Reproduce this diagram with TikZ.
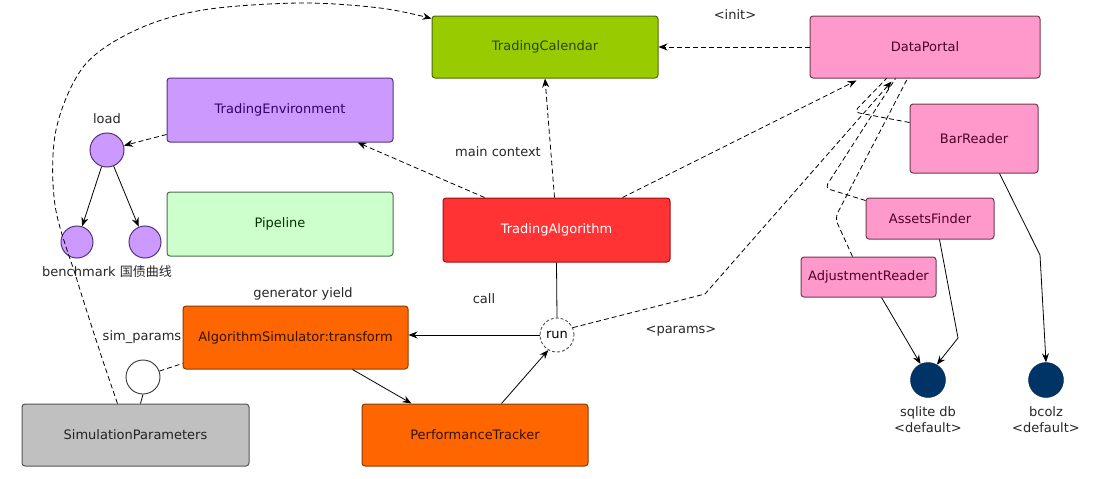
\documentclass[tikz,border=0pt]{standalone}
\usepackage{fontspec}
\setmainfont{DejaVu Sans}
\newfontfamily\cjk{Noto Sans CJK SC}
\usetikzlibrary{arrows.meta,calc}
\definecolor{tcfill}{HTML}{99CC00}\definecolor{tcline}{HTML}{4F6A00}\definecolor{tctext}{HTML}{2E4400}
\definecolor{dpfill}{HTML}{FF99CC}\definecolor{dpline}{HTML}{6E3A50}\definecolor{dptext}{HTML}{4D0026}
\definecolor{tefill}{HTML}{CC99FF}\definecolor{teline}{HTML}{553377}\definecolor{tetext}{HTML}{330066}
\definecolor{plfill}{HTML}{CCFFCC}\definecolor{plline}{HTML}{4E6A4E}\definecolor{pltext}{HTML}{003300}
\definecolor{tafill}{HTML}{FF3333}\definecolor{taline}{HTML}{991111}
\definecolor{orfill}{HTML}{FF6600}\definecolor{orline}{HTML}{8A3A00}\definecolor{ortext}{HTML}{331100}
\definecolor{spfill}{HTML}{C0C0C0}\definecolor{spline}{HTML}{555555}\definecolor{sptext}{HTML}{222222}
\definecolor{navy}{HTML}{003366}
\begin{document}
\begin{tikzpicture}[x=1pt,y=-1pt,
  font=\fontsize{13}{16}\selectfont,
  box/.style={draw, rounded corners=3pt, line width=1pt, inner sep=0pt},
  tc/.style={box, fill=tcfill, draw=tcline, text=tctext},
  dp/.style={box, fill=dpfill, draw=dpline, text=dptext},
  te/.style={box, fill=tefill, draw=teline, text=tetext},
  pl/.style={box, fill=plfill, draw=plline, text=pltext},
  ta/.style={box, fill=tafill, draw=taline, text=white},
  orb/.style={box, fill=orfill, draw=orline, text=ortext},
  sp/.style={box, fill=spfill, draw=spline, text=sptext},
  dot/.style={circle, draw=teline, fill=tefill, line width=1pt, minimum size=32pt, inner sep=0pt},
  hollow/.style={circle, draw=black!80, fill=white, line width=0.9pt, minimum size=34pt, inner sep=0pt},
  db/.style={circle, fill=navy, draw=navy!70!black, minimum size=35pt, inner sep=0pt},
  lbl/.style={inner sep=0pt, text=black!85},
  dsh/.style={dash pattern=on 5pt off 3pt, line width=0.8pt},
  sol/.style={line width=0.8pt},
  tip/.style={-{Stealth[length=9pt,width=7pt,inset=3pt]}}
]
\useasboundingbox (0,0) rectangle (1093,479);
% boxes
\node[tc, minimum width=226pt, minimum height=62pt] (TC) at (545,47) {TradingCalendar};
\node[dp, minimum width=230pt, minimum height=62pt] (DP) at (925,47) {DataPortal};
\node[te, minimum width=226pt, minimum height=64pt] (TE) at (280,110) {TradingEnvironment};
\node[pl, minimum width=226pt, minimum height=64pt] (PL) at (280,224) {Pipeline};
\node[ta, minimum width=227pt, minimum height=64pt] (TA) at (556.5,230) {TradingAlgorithm};
\node[orb, minimum width=225pt, minimum height=63pt] (AS) at (295.5,337.5) {AlgorithmSimulator:transform};
\node[sp, minimum width=227pt, minimum height=62pt] (SP) at (135.5,435) {SimulationParameters};
\node[orb, minimum width=226pt, minimum height=62pt] (PT) at (475,435) {PerformanceTracker};
\node[dp, minimum width=128pt, minimum height=69pt] (BR) at (974,138.5) {BarReader};
\node[dp, minimum width=128pt, minimum height=41pt] (AF) at (930,218.5) {AssetsFinder};
\node[dp, minimum width=135pt, minimum height=40pt] (AR) at (868.5,277) {AdjustmentReader};
% circles
\node[dot, minimum size=34pt] (load) at (107,150) {};
\node[dot] (bm) at (77,242) {};
\node[dot] (gz) at (145,242) {};
\node[hollow, draw=black!70, dash pattern=on 3pt off 2pt] (run) at (557,335) {run};
\node[hollow] (sim) at (143,377) {};
\node[db] (sq) at (928,380) {};
\node[db] (bc) at (1046,380) {};
% labels
\node[lbl] (linit) at (735,15) {<init>};
\node[lbl] (lload) at (107,119) {load};
\node[lbl] (lbm) at (107,272) {benchmark {\cjk 国债曲线}};
\node[lbl] (lmain) at (498,152) {main context};
\node[lbl] (lcall) at (484,299) {call};
\node[lbl] (lpar) at (681,331) {<params>};
\node[lbl] (lgen) at (303,294) {generator yield};
\node[lbl] (lsim) at (142,337) {sim\_params};
\node[lbl, align=center] (lsq) at (928,420) {sqlite db\\<default>};
\node[lbl, align=center] (lbc) at (1046,420) {bcolz\\<default>};
% dashed connectors
\draw[dsh, tip] plot[smooth, tension=0.55] coordinates {($(SP.north)+(-18,0)$) (100,352) (77,280) (55,205) (56,130) (84,66) (136,30) (203,10) (300,3) (380,8) ($(TC.north west)+(0,3)$)};
\draw[dsh, tip] (DP.west) -- (TC.east);
\draw[dsh, tip] ($(TE.south west)+(0,-8)$) -- (load);
\draw[dsh, tip] ($(TA.north)+(-2,0)$) -- (TC.south);
\draw[dsh, tip] ($(TA.north west)+(42,0)$) -- ($(TE.south east)+(-36,0)$);
\draw[dsh, tip] ($(TA.north east)+(-48,0)$) -- ($(DP.south west)+(47,2)$);
\coordinate (bend) at (705,294);
\draw[dsh, tip] (run.25) -- (bend) -- ($(DP.south west)+(82,3)$);
\draw[dsh, rounded corners=5pt] ($(BR.north west)+(0,19)$) -- (854,112) -- ($(DP.south west)+(77,0)$);
\draw[dsh, rounded corners=5pt] ($(AF.north west)+(0,3)$) -- (825,188) -- ($(DP.south west)+(86,0)$);
\draw[dsh, rounded corners=6pt] ($(AR.north west)+(52,0)$) -- (835,218) -- ($(DP.south west)+(98,0)$);
\draw[dsh] (sim.20) -- ($(AS.south west)+(0,-6)$);
% solid connectors
\draw[sol, tip] (load) -- (bm);
\draw[sol, tip] (load) -- (gz);
\draw[sol] (TA.south) -- (run.north);
\draw[sol, tip] (run.west) -- (AS.east |- run.west);
\draw[sol, tip] ($(AS.south east)+(-56,0)$) -- ($(PT.north west)+(50,0)$);
\draw[sol, tip] ($(PT.north west)+(140,0)$) -- (run.240);
\draw[sol] ($(SP.north)+(5,0)$) -- (sim.south);
\draw[sol, tip] ($(BR.south west)+(90,0)$) -- (1040,255) -- (bc.north);
\draw[sol, tip] ($(AF.south west)+(74,0)$) -- (958,338) -- (sq.60);
\draw[sol, tip] ($(AR.south west)+(81,0)$) -- (sq.115);
\end{tikzpicture}
\end{document}
